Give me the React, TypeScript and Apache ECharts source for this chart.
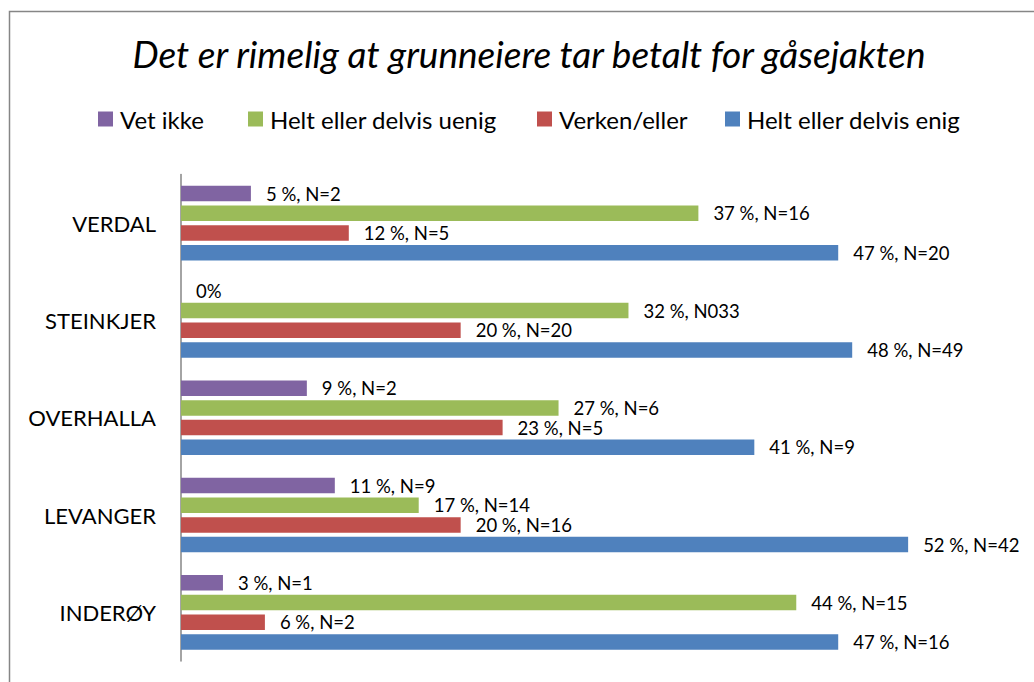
import React, { useEffect, useRef } from "react";
import * as echarts from "echarts";

const categories = ["VERDAL", "STEINKJER", "OVERHALLA", "LEVANGER", "INDERØY"];
const seriesNames = ["Vet ikke", "Helt eller delvis uenig", "Verken/eller", "Helt eller delvis enig"];

const vetIkke = [5, 0, 9, 11, 3];
const uenig = [37, 32, 27, 17, 44];
const verken = [12, 20, 23, 20, 6];
const enig = [47, 48, 41, 52, 47];

const vetIkkeLabels = ["5 %, N=2", "0%", "9 %, N=2", "11 %, N=9", "3 %, N=1"];
const uenigLabels = ["37 %, N=16", "32 %, N033", "27 %, N=6", "17 %, N=14", "44 %, N=15"];
const verkenLabels = ["12 %, N=5", "20 %, N=20", "23 %, N=5", "20 %, N=16", "6 %, N=2"];
const enigLabels = ["47 %, N=20", "48 %, N=49", "41 %, N=9", "52 %, N=42", "47 %, N=16"];

const colors = ["#8064A2", "#9BBB59", "#C0504D", "#4F81BD"];
const legendLefts = [93, 243, 532, 720];

const FONT = "Lato, 'Open Sans', sans-serif";

export default function App() {
  const ref = useRef<HTMLDivElement>(null);
  useEffect(() => {
    if (!ref.current) return;
    const chart = echarts.init(ref.current, undefined, { renderer: "svg" });
    const values = [vetIkke, uenig, verken, enig];
    const labels = [vetIkkeLabels, uenigLabels, verkenLabels, enigLabels];
    chart.setOption({
      animation: false,
      backgroundColor: "#ffffff",
      textStyle: { fontFamily: FONT },
      title: {
        text: "Det er rimelig at grunneiere tar betalt for gåsejakten",
        left: 524,
        textAlign: "center",
        top: 30,
        textStyle: { fontFamily: FONT, fontStyle: "italic", fontWeight: "normal", fontSize: 37, color: "#000" },
      },
      legend: seriesNames.map((n, i) => ({
        data: [n],
        left: legendLefts[i],
        top: 102,
        itemWidth: 15,
        itemHeight: 15,
        itemGap: 0,
        icon: "rect",
        textStyle: { fontFamily: FONT, fontSize: 24, color: "#000", padding: [0, 0, 0, 2] },
      })),
      grid: { left: 181, right: 14, top: 174.5, bottom: 21, containLabel: false },
      xAxis: {
        type: "value",
        min: 0,
        max: 60,
        show: false,
        splitLine: { show: false },
      },
      yAxis: {
        type: "category",
        data: categories,
        inverse: true,
        axisLine: { show: true, lineStyle: { color: "#868686", width: 1.5 } },
        axisTick: { show: false },
        axisLabel: { fontFamily: FONT, fontSize: 22, color: "#000", margin: 25 },
      },
      series: seriesNames.map((n, i) => ({
        name: n,
        type: "bar",
        data: values[i],
        barWidth: 15.5,
        barGap: "27%",
        itemStyle: { color: colors[i] },
        label: {
          show: true,
          position: "right",
          distance: 15,
          fontFamily: FONT,
          fontSize: 18.5,
          color: "#000",
          formatter: (p: any) => labels[i][p.dataIndex],
        },
      })),
      graphic: [
        {
          type: "rect",
          shape: { x: 9.5, y: 11.5, width: 1040, height: 700 },
          style: { fill: "none", stroke: "#868686", lineWidth: 1.5 },
          silent: true,
        },
      ],
    });
    return () => chart.dispose();
  }, []);
  return (
    <div
      ref={ref}
      style={{ position: "fixed", left: 0, top: 0, width: 1034, height: 682 }}
    />
  );
}
